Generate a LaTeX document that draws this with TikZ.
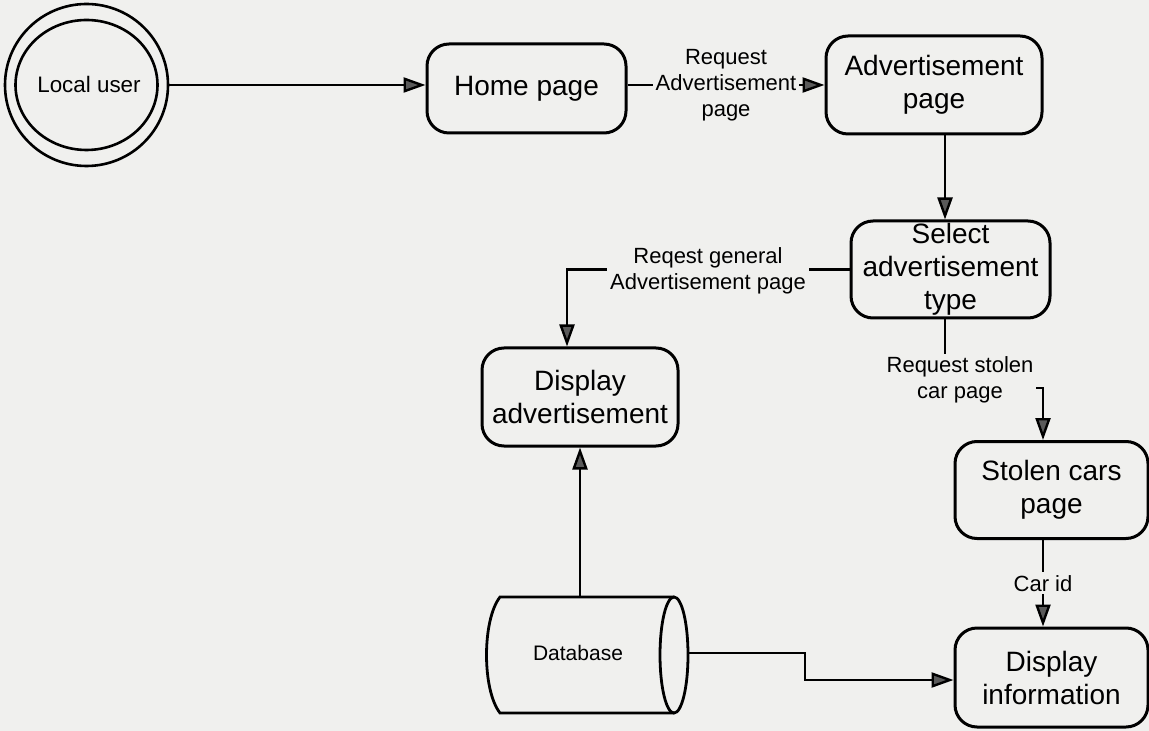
\documentclass[tikz,border=0pt]{standalone}
\usepackage{fontspec}
\setmainfont{Liberation Sans}
\usetikzlibrary{arrows.meta,calc,shapes.geometric}
\definecolor{paper}{RGB}{240,240,238}
\definecolor{tipgray}{RGB}{90,90,90}
\tikzset{
  procbox/.style={draw=black, line width=1.5pt, rounded corners=11pt, inner sep=0pt,
    align=center, font=\fontsize{14}{16.5}\selectfont, text=black},
  flow/.style={line width=1.2pt, draw=black,
    -{Triangle[length=11pt,width=7.5pt,fill=tipgray]}},
  flowlabel/.style={fill=paper, inner sep=1.5pt, align=center,
    font=\fontsize{11}{13}\selectfont, text=black},
}
\begin{document}
\begin{tikzpicture}[x=0.5pt, y=-0.5pt]
  % page
  \fill[paper] (0,0) rectangle (1149,731);
  \useasboundingbox (0,0) rectangle (1149,731);

  % external entity: double circle
  \node[draw=black, line width=1.3pt, ellipse, minimum width=81.5pt, minimum height=81pt,
        inner sep=0pt] (user) at (86.5,85) {};
  \draw[line width=1.3pt] (user.center) ellipse [x radius=35.5pt, y radius=32.5pt];
  \node[font=\fontsize{11.2}{13}\selectfont] (usertext) at (89,84) {Local user};

  % processes
  \node[procbox, minimum width=99.5pt, minimum height=44.5pt] (home) at (526.5,88.5) {Home page};
  \node[procbox, minimum width=108pt, minimum height=49pt] (adpage) at (934,85) {Advertisement\\page};
  \node[procbox, minimum width=99.5pt, minimum height=48.5pt] (select) at (950.5,269.5) {Select\\advertisement\\type};
  \node[procbox, minimum width=98pt, minimum height=49pt] (dispad) at (580,397) {Display\\advertisement};
  \node[procbox, minimum width=96.5pt, minimum height=48.5pt] (stolen) at (1051.5,490) {Stolen cars\\page};
  \node[procbox, minimum width=96.5pt, minimum height=49.5pt] (dispinfo) at (1051.5,677.5) {Display\\information};

  % data store: horizontal cylinder
  \draw[line width=1.4pt] (674,597) -- (500,597)
     .. controls (482,620) and (482,690) .. (500,713) -- (674,713);
  \draw[line width=1.4pt] (674,655) ellipse [x radius=7pt, y radius=29pt];
  \node[font=\fontsize{10.5}{12}\selectfont] (db) at (578,653) {Database};
  \coordinate (dbtop) at (580,597);
  \coordinate (dbright) at (688,653);

  % connectors
  \draw[flow] (user.east) -- (home.west |- user.east);
  \draw[flow] (home.east |- adpage.west) -- (adpage.west)
     node[flowlabel, midway] (lblad) {Request\\Advertisement\\page};
  \draw[flow] (adpage.south -| 945,0) -- (select.north -| 945,0);
  \draw[flow] (select.west) -- (567,269.5) -- (dispad.north -| 567,0);
  \node[flowlabel] (lblgen) at (708,271) {Reqest general\\Advertisement page};
  \draw[flow] (dbtop) -- (dispad.south);
  \draw[flow] (dbright) -- (805,653) -- (805,680) -- (dispinfo.west |- 0,680);
  \draw[flow] (select.south -| 945,0) |- (1043,388) -- (stolen.north -| 1043,0);
  \node[flowlabel] (lblstolen) at (960,380) {Request stolen\\car page};
  \draw[flow] (stolen.south -| 1043,0) -- (dispinfo.north -| 1043,0)
     node[flowlabel, midway] (lblcar) {Car id};
\end{tikzpicture}
\end{document}
